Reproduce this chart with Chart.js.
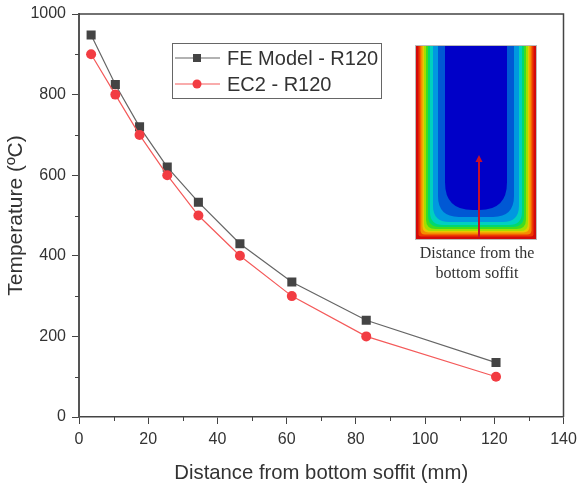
<!DOCTYPE html>
<html>
<head>
<meta charset="utf-8">
<style>html,body{margin:0;padding:0;background:#fff}#w{width:579px;height:486px;position:relative}</style>
<script src="https://cdn.jsdelivr.net/npm/chart.js@4/dist/chart.umd.min.js"></script>
</head>
<body>
<div id="w"><canvas id="c" width="579" height="486"></canvas></div>
<script>
const distance = [3.5, 10.5, 17.5, 25.5, 34.5, 46.5, 61.5, 83, 120.5];
const feModel = [948, 825, 720, 620, 533, 430, 335, 240, 135];
const ec2 = [900, 800, 700, 600, 500, 400, 300, 200, 100];
const minorX = [10, 30, 50, 70, 90, 110, 130];
const minorY = [100, 300, 500, 700, 900];
const feName = 'FE Model - R120';
const ecName = 'EC2 - R120';
const xTitle = 'Distance from bottom soffit (mm)';
const yTitle = 'Temperature (ºC)';
const captionLines = ['Distance from the', 'bottom soffit'];
const contourColors = ['#d40a0a','#ee3a00','#f58c00','#e8c800','#a0e000','#3fdc20','#00d870','#00d0c0','#0098e0','#0058d4','#0000c8'];
const contourInsets = [0, 2.5, 4.5, 6.5, 8, 10, 12, 14, 17, 22, 29];

const AXIS = '#444';
const TEXT = '#333';

function pts(ys){ return distance.map((x,i)=>({x, y:ys[i]})); }

const decor = {
  id:'decor',
  afterDraw(chart){
    const c = chart.ctx, a = chart.chartArea, sx = chart.scales.x, sy = chart.scales.y;
    c.save();
    // frame top/right
    c.strokeStyle = AXIS; c.lineWidth = 1.5;
    c.beginPath(); c.moveTo(a.left,a.top); c.lineTo(a.right,a.top); c.lineTo(a.right,a.bottom); c.stroke();
    // minor ticks
    c.lineWidth = 1;
    minorX.forEach(v=>{const p=Math.round(sx.getPixelForValue(v))+.5;c.beginPath();c.moveTo(p,a.bottom);c.lineTo(p,a.bottom+4);c.stroke();});
    minorY.forEach(v=>{const p=Math.round(sy.getPixelForValue(v))+.5;c.beginPath();c.moveTo(a.left,p);c.lineTo(a.left-4,p);c.stroke();});
    // legend
    c.strokeStyle='#666'; c.lineWidth=1;
    c.strokeRect(172.5,43.5,209,55);
    const rows=[[0,58],[1,84]];
    rows.forEach(([i,y])=>{
      const d=chart.data.datasets[i];
      c.strokeStyle=d.borderColor; c.lineWidth=1.2;
      c.beginPath(); c.moveTo(175,y); c.lineTo(220,y); c.stroke();
      c.fillStyle=d.backgroundColor;
      if(i===0){c.fillRect(193,y-4,8,8);}
      else{c.beginPath();c.arc(197,y,4.5,0,Math.PI*2);c.fill();}
      c.fillStyle=TEXT; c.font='20px "Liberation Sans"'; c.textBaseline='middle'; c.textAlign='left';
      c.fillText(d.label,227,y+1);
    });
    // inset contour picture
    const L=416,R=536,T=46,B=239;
    c.save();
    c.filter='blur(0.6px)';
    contourColors.forEach((col,i)=>{
      const s=contourInsets[i], r=s*0.95;
      c.fillStyle=col;
      c.beginPath();
      c.moveTo(L+s,T);
      c.lineTo(L+s,B-s-r);
      c.quadraticCurveTo(L+s,B-s,L+s+r,B-s);
      c.lineTo(R-s-r,B-s);
      c.quadraticCurveTo(R-s,B-s,R-s,B-s-r);
      c.lineTo(R-s,T);
      c.closePath();
      c.fill();
    });
    c.restore();
    c.strokeStyle='#bbb'; c.lineWidth=1; c.strokeRect(L-.5,T-.5,R-L+1,B-T+1);
    // arrow
    c.strokeStyle='#c8102a'; c.fillStyle='#c8102a'; c.lineWidth=2;
    c.beginPath(); c.moveTo(479,237); c.lineTo(479,160); c.stroke();
    c.beginPath(); c.moveTo(479,155); c.lineTo(475.5,162); c.lineTo(482.5,162); c.closePath(); c.fill();
    // caption
    c.fillStyle=TEXT; c.font='16px "Liberation Serif"'; c.textAlign='center'; c.textBaseline='alphabetic';
    c.fillText(captionLines[0],477,258);
    c.fillText(captionLines[1],477,278);
    c.restore();
  }
};

new Chart(document.getElementById('c'),{
  type:'line',
  data:{datasets:[
    {label:feName,data:pts(feModel),borderColor:'#666',backgroundColor:'#444',borderWidth:1.2,pointStyle:'rect',pointRadius:6.4,pointHoverRadius:6.4,pointBorderWidth:0,tension:0,order:2},
    {label:ecName,data:pts(ec2),borderColor:'#f45a5a',backgroundColor:'#f23c42',borderWidth:1.2,pointStyle:'circle',pointRadius:5,pointHoverRadius:5,pointBorderWidth:0,tension:0,order:1}
  ]},
  options:{
    responsive:false,animation:false,
    layout:{padding:{top:14,right:15.5,left:0,bottom:0}},
    plugins:{legend:{display:false},tooltip:{enabled:false},title:{display:false}},
    scales:{
      x:{type:'linear',min:0,max:140,
        afterFit:s=>{s.height=69;s.paddingLeft=0;s.paddingRight=0;},
        ticks:{stepSize:20,maxRotation:0,color:TEXT,font:{family:'"Liberation Sans"',size:16},padding:6,callback:v=>String(v)},
        grid:{drawOnChartArea:false,tickLength:7,tickColor:AXIS,tickWidth:1},
        border:{color:AXIS,width:1.5},
        title:{display:true,text:xTitle,color:TEXT,font:{family:'"Liberation Sans"',size:20.3},padding:{top:3,bottom:0}}
      },
      y:{type:'linear',min:0,max:1000,
        afterFit:s=>{s.width=79;s.paddingTop=0;s.paddingBottom=0;},
        ticks:{stepSize:200,color:TEXT,font:{family:'"Liberation Sans"',size:16},padding:6,callback:v=>String(v)},
        grid:{drawOnChartArea:false,tickLength:7,tickColor:AXIS,tickWidth:1},
        border:{color:'#555',width:2},
        title:{display:true,text:yTitle,color:TEXT,font:{family:'"Liberation Sans"',size:21},padding:{top:4,bottom:0}}
      }
    }
  },
  plugins:[decor]
});
</script>
</body>
</html>
